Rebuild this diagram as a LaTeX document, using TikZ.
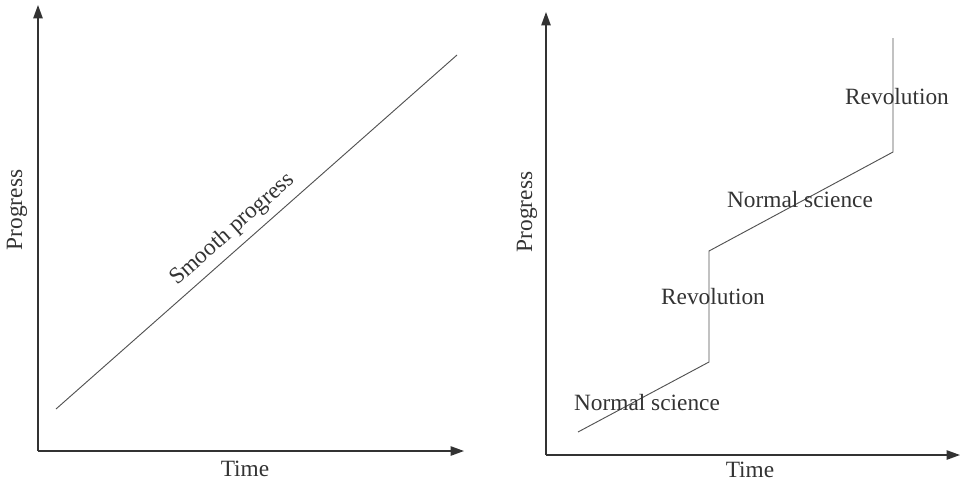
\documentclass[tikz,border=0pt]{standalone}
\usepackage{fontspec}
\setmainfont{Liberation Serif}
\usepackage{xcolor}
\usetikzlibrary{arrows.meta,positioning,calc}
\definecolor{inkgray}{HTML}{333333}

\begin{document}
\begin{tikzpicture}[
    x=0.75pt,y=-0.75pt,
    axis/.style  = {draw=inkgray,line width=1.1pt,
                    -{Triangle[length=10pt,width=7pt]}},
    curve/.style = {draw=inkgray!85,line width=0.7pt,line join=miter},
    lbl/.style   = {font=\fontsize{17.5}{20}\selectfont,text=inkgray,inner sep=1pt},
  ]
  \useasboundingbox (0,0) rectangle (960,483);

  % Panneau gauche : progres continu
  \coordinate (oL) at (38,451);
  \coordinate (yL) at (38,5);
  \coordinate (xL) at (464,451);
  \draw[axis] (oL) -- (yL);
  \draw[axis] (oL) -- (xL);
  \node[lbl,rotate=90] (progL) at (17,210) {Progress};
  \node[lbl] (timeL) at (245,469) {Time};

  \coordinate (sA) at (56,409);
  \coordinate (sB) at (457,55);
  \draw[curve] (sA) -- node[lbl,pos=0.47,sloped,above=4pt] (smooth) {Smooth progress} (sB);

  % Panneau droit : science normale et revolutions
  \coordinate (oR) at (546,455);
  \coordinate (yR) at (546,12);
  \coordinate (xR) at (960,455);
  \draw[axis] (oR) -- (yR);
  \draw[axis] (oR) -- (xR);
  \node[lbl,rotate=90] (progR) at (527,212) {Progress};
  \node[lbl] (timeR) at (750,470) {Time};

  \coordinate (p0) at (578,432);
  \coordinate (p1) at (709,362);
  \coordinate (p2) at (709,251);
  \coordinate (p3) at (893,152);
  \coordinate (p4) at (893,38);
  \draw[curve] (p0) -- (p1) -- (p2) -- (p3) -- (p4);

  \node[lbl] (norm1) at (647,403) {Normal science};
  \node[lbl] (rev1)  at (713,297) {Revolution};
  \node[lbl] (norm2) at (800,200) {Normal science};
  \node[lbl] (rev2)  at (897,97)  {Revolution};

\end{tikzpicture}
\end{document}
